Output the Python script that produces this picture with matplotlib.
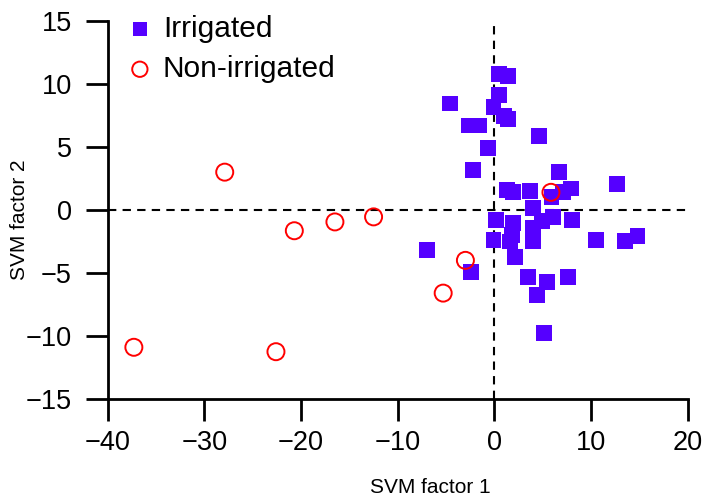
import numpy as np
import matplotlib
matplotlib.use('Agg')
import matplotlib.pyplot as plt

plt.rcParams['font.family'] = ['Liberation Sans', 'DejaVu Sans']

# irrigated sites (SVM factor 1, SVM factor 2)
irr_x = [0.5, 1.4, -4.6, 0.5, -0.1, 1.0, 1.4, -2.6, -1.6, 4.6, -0.7, -2.2,
         6.7, 12.7, 1.3, 1.9, 3.7, 7.9, 5.9, 7.1, 4.0, 0.2, 1.9, 4.0,
         4.9, 6.1, 8.0, 1.8, 4.0, -0.1, -7.0, 10.5, 13.5, 14.8, 2.1, -2.4,
         3.5, 5.4, 7.6, 4.4, 5.1, 1.6, 4.0]
irr_y = [10.8, 10.6, 8.45, 9.1, 8.2, 7.45, 7.2, 6.7, 6.7, 5.9, 4.9, 3.2,
         3.0, 2.05, 1.6, 1.4, 1.5, 1.7, 1.05, 1.45, 0.15, -0.8, -1.05, -1.45,
         -0.9, -0.55, -0.8, -2.0, -2.1, -2.4, -3.2, -2.4, -2.45, -2.1, -3.75, -4.9,
         -5.3, -5.7, -5.35, -6.75, -9.75, -2.5, -2.5]

# non-irrigated sites
non_x = [-37.3, -27.9, -22.6, -20.7, -16.5, -12.5, -5.3, -3.0, 5.85]
non_y = [-10.9, 3.0, -11.25, -1.65, -0.95, -0.55, -6.6, -4.0, 1.4]

xticks = [-40, -30, -20, -10, 0, 10, 20]
yticks = [-15, -10, -5, 0, 5, 10, 15]

fig = plt.figure(figsize=(7.09, 4.99), dpi=100)
ax = fig.add_axes([0.152, 0.2005, 0.818, 0.7575])

ax.axvline(0, color='black', lw=1.5, dashes=(4, 3), zorder=1)
ax.axhline(0, color='black', lw=1.5, dashes=(4, 3), zorder=1)

ax.scatter(irr_x, irr_y, marker='s', s=130, color='#5500ff', edgecolors='none',
           label='Irrigated', zorder=2, clip_on=False)
ax.scatter(non_x, non_y, marker='o', s=150, facecolors='none', edgecolors='#ff0000',
           linewidths=1.4, label='Non-irrigated', zorder=3, clip_on=False)

ax.set_xlim(-40, 20)
ax.set_ylim(-15, 15)
ax.set_xticks(xticks)
ax.set_yticks(yticks)
ax.set_xticklabels([str(t).replace('-', '\u2212') for t in xticks])
ax.set_yticklabels([str(t).replace('-', '\u2212') for t in yticks])

for s in ['top', 'right']:
    ax.spines[s].set_visible(False)
for s in ['left', 'bottom']:
    ax.spines[s].set_linewidth(2.0)
ax.tick_params(axis='both', direction='out', length=16, width=2.0, labelsize=19.5)
ax.tick_params(axis='x', pad=6)
ax.tick_params(axis='y', pad=10)

fig.text(0.607, 0.024, 'SVM factor 1', ha='center', va='center', fontsize=15)
fig.text(0.028, 0.56, 'SVM factor 2', ha='center', va='center', fontsize=15, rotation=90)

ax.legend(loc='upper left', bbox_to_anchor=(0.009, 1.047), frameon=False, fontsize=21.5,
          handlelength=1.0, handletextpad=0.27, borderaxespad=0, labelspacing=0.4,
          markerscale=0.9)

fig.savefig('out.png', dpi=100)
